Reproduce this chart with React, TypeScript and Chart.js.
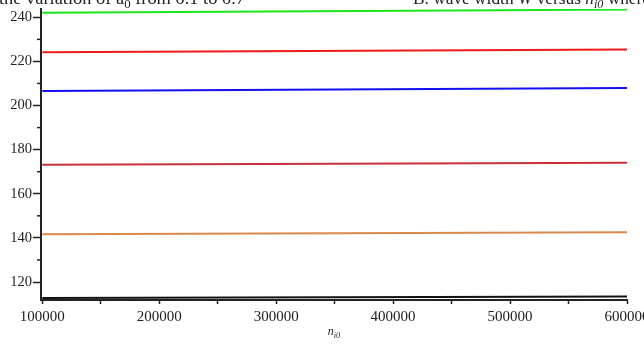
import React, { useEffect, useRef } from "react";
import { Chart, registerables } from "chart.js";

Chart.register(...registerables);

// Ion density range (x) and wave width W at each end (y)
const N_I0 = [100000, 600000];
const W_GREEN = [242.1, 243.5];
const W_RED = [224.1, 225.4];
const W_BLUE = [206.6, 207.9];
const W_FIREBRICK = [173.2, 174.1];
const W_ORANGE = [141.6, 142.6];
const W_BLACK = [112.7, 113.4];

const SERIES = [
  { name: "W (green)", values: W_GREEN, color: "#19e619" },
  { name: "W (red)", values: W_RED, color: "#f0181c" },
  { name: "W (blue)", values: W_BLUE, color: "#1010f0" },
  { name: "W (firebrick)", values: W_FIREBRICK, color: "#c43139" },
  { name: "W (orange)", values: W_ORANGE, color: "#d88a4c" },
  { name: "W (black)", values: W_BLACK, color: "#111111" },
];

const X_TICKS = [100000, 150000, 200000, 250000, 300000, 350000, 400000, 450000, 500000, 550000, 600000];
const X_LABELED = [100000, 200000, 300000, 400000, 500000, 600000];
const Y_TICKS = [120, 140, 160, 180, 200, 220, 240];
const Y_MINOR = [130, 150, 170, 190, 210, 230];

const SERIF = '"Liberation Serif", "Times New Roman", serif';

type Piece = { t: string; italic?: boolean; sub?: boolean };

// Draws a run of text pieces, each with its own style and baseline shift
function drawRich(ctx: CanvasRenderingContext2D, parts: Piece[], x: number, y: number, size: number) {
  let cx = x;
  for (const p of parts) {
    const s = p.sub ? size * 0.7 : size;
    ctx.font = `${p.italic ? "italic " : ""}${s}px ${SERIF}`;
    ctx.fillText(p.t, cx, p.sub ? y + size * 0.25 : y);
    cx += ctx.measureText(p.t).width;
  }
  return cx;
}

function measureRich(ctx: CanvasRenderingContext2D, parts: Piece[], size: number) {
  let w = 0;
  for (const p of parts) {
    const s = p.sub ? size * 0.7 : size;
    ctx.font = `${p.italic ? "italic " : ""}${s}px ${SERIF}`;
    w += ctx.measureText(p.t).width;
  }
  return w;
}

// Draws a caption stretched horizontally to a given span
function drawSpan(ctx: CanvasRenderingContext2D, parts: Piece[], x0: number, x1: number, y: number, size: number) {
  const w = measureRich(ctx, parts, size);
  ctx.save();
  ctx.translate(x0, y);
  ctx.scale((x1 - x0) / w, 1);
  drawRich(ctx, parts, 0, 0, size);
  ctx.restore();
}

const decorations = {
  id: "decorations",
  afterDraw(chart: any) {
    const ctx: CanvasRenderingContext2D = chart.ctx;
    const y = chart.scales.y;
    const x = chart.scales.x;
    ctx.save();
    // minor ticks on the y axis
    ctx.strokeStyle = "#222";
    ctx.lineWidth = 1.5;
    for (const v of Y_MINOR) {
      const py = y.getPixelForValue(v);
      ctx.beginPath();
      ctx.moveTo(x.left - 4, py);
      ctx.lineTo(x.left, py);
      ctx.stroke();
    }
    ctx.fillStyle = "#222";
    ctx.textBaseline = "alphabetic";
    // x axis title: n_i0
    const title: Piece[] = [
      { t: "n", italic: true },
      { t: "i0", italic: true, sub: true },
    ];
    const tw = measureRich(ctx, title, 12);
    drawRich(ctx, title, 334 - tw / 2, 335, 12);

    // caption lines running along the top edge
    const left: Piece[] = [
      { t: "the variation of a" },
      { t: "0", sub: true },
      { t: " from 0.1 to 0.7" },
    ];
    drawSpan(ctx, left, -1, 245, 3.5, 17);
    const right: Piece[] = [
      { t: "B. wave width " },
      { t: "W", italic: true },
      { t: " versus " },
      { t: "n", italic: true },
      { t: "i0", italic: true, sub: true },
      { t: " where" },
    ];
    drawSpan(ctx, right, 413, 650, 3.5, 17);
    ctx.restore();
  },
};

export default function App() {
  const ref = useRef<HTMLCanvasElement | null>(null);

  useEffect(() => {
    if (!ref.current) return;
    const chart = new Chart(ref.current, {
      type: "line",
      data: {
        datasets: SERIES.map((s) => ({
          label: s.name,
          data: N_I0.map((n, i) => ({ x: n, y: s.values[i] })),
          borderColor: s.color,
          borderWidth: 2,
          pointRadius: 0,
          tension: 0,
          fill: false,
        })),
      },
      options: {
        animation: false,
        responsive: false,
        layout: { padding: { top: 9, right: 17, left: 0, bottom: 0 } },
        plugins: { legend: { display: false }, tooltip: { enabled: false } },
        scales: {
          x: {
            type: "linear",
            min: 98900,
            max: 600000,
            afterFit: (scale: any) => {
              scale.height = 45;
              scale.paddingLeft = 0;
              scale.paddingRight = 0;
            },
            afterBuildTicks: (scale: any) => {
              scale.ticks = X_TICKS.map((v) => ({ value: v }));
            },
            ticks: {
              autoSkip: false,
              maxRotation: 0,
              padding: 4,
              color: "#222",
              font: { family: SERIF, size: 15 },
              callback: (v: any) => (X_LABELED.includes(Number(v)) ? String(v) : ""),
            },
            grid: { drawOnChartArea: false, tickLength: 4, tickColor: "#222", tickWidth: 1.5 },
            border: { color: "#222", width: 2 },
          },
          y: {
            type: "linear",
            min: 111.84,
            max: 243.76,
            afterFit: (scale: any) => {
              scale.width = 41;
              scale.paddingTop = 0;
              scale.paddingBottom = 0;
            },
            afterBuildTicks: (scale: any) => {
              scale.ticks = Y_TICKS.map((v) => ({ value: v }));
            },
            ticks: {
              padding: 1,
              color: "#222",
              font: { family: SERIF, size: 14.5 },
              callback: (v: any) => String(v),
            },
            grid: { drawOnChartArea: false, tickLength: 8, tickColor: "#222", tickWidth: 1.5 },
            border: { color: "#222", width: 2 },
          },
        },
      },
      plugins: [decorations],
    });
    return () => chart.destroy();
  }, []);

  return (
    <div style={{ position: "fixed", left: 0, top: 0, width: 644, height: 345, background: "#fff" }}>
      <canvas ref={ref} width={644} height={345} />
    </div>
  );
}
